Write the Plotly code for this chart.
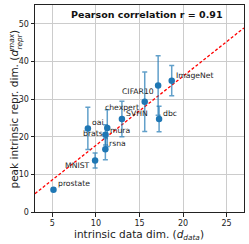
import plotly.graph_objects as go

datasets = ["prostate", "MNIST", "rsna", "brats", "mura", "oai", "SVHN",
            "chexpert", "CIFAR10", "dbc", "ImageNet"]
d_data = [5.12, 9.9, 11.08, 11.1, 11.3, 9.07, 12.98, 15.6, 17.14, 17.25, 18.7]
d_repr = [5.9, 13.7, 16.7, 20.5, 22.3, 22.2, 24.7, 29.3, 33.6, 24.7, 34.9]
d_repr_err = [0.0, 2.0, 2.8, 2.7, 4.9, 5.6, 4.7, 7.9, 7.9, 3.4, 4.0]
fit_slope = 1.835
fit_intercept = -0.63
x_ticks = [5, 10, 15, 20, 25]
y_ticks = [0, 10, 20, 30, 40, 50]
title_text = "<b>Pearson correlation r = 0.91</b>"
x_title = "intrinsic data dim. (<i>d<sub>data</sub></i>)"
y_title = "peak intrinsic repr. dim. (<i>d<sup>max</sup></i>)"
y_title_sub = "<i>repr</i>"

# label placement (pixel offsets, anchor)
label_style = {
    "prostate": (2.4, 6.3, "left"),
    "MNIST": (-3, -5, "right"),
    "rsna": (1.3, 6, "left"),
    "brats": (-0.7, 1.7, "right"),
    "mura": (0.6, -2, "left"),
    "oai": (2.2, 6, "left"),
    "SVHN": (2.4, 6, "left"),
    "chexpert": (-3.7, -5.6, "right"),
    "CIFAR10": (-2.3, -6, "right"),
    "dbc": (2, 6, "left"),
    "ImageNet": (2, 5.3, "left"),
}

x_range = [3, 27]
y_range = [0, 55]
FONT = "DejaVu Sans"

fig = go.Figure()
fig.add_trace(go.Scatter(
    x=x_range, y=[fit_slope * v + fit_intercept for v in x_range],
    mode="lines", line=dict(color="#ff0000", width=1.3, dash="3px,2px"),
    showlegend=False, hoverinfo="skip"))
fig.add_trace(go.Scatter(
    x=d_data, y=d_repr, mode="markers",
    marker=dict(color="#1f77b4", size=6.5),
    error_y=dict(type="data", array=d_repr_err, visible=True,
                 color="rgba(31,119,180,0.7)", thickness=1.5, width=2.5),
    showlegend=False))

for name, xv, yv in zip(datasets, d_data, d_repr):
    dx, dy, anc = label_style[name]
    fig.add_annotation(x=xv, y=yv, text=name, showarrow=False,
                       xanchor=anc, yanchor="middle", xshift=dx, yshift=dy,
                       font=dict(family=FONT, size=7.7, color="#222"))

fig.add_annotation(x=0.5, y=0.955, xref="paper", yref="paper", text=title_text,
                   showarrow=False, xanchor="center", yanchor="middle", xshift=7,
                   font=dict(family=FONT, size=9.5, color="#111"))

fig.add_annotation(x=0.5, y=0, xref="paper", yref="paper", text=x_title,
                   showarrow=False, xanchor="center", yanchor="middle", yshift=-23, xshift=-1,
                   font=dict(family=FONT, size=10.5, color="#222"))
fig.add_annotation(x=0, y=0.5, xref="paper", yref="paper", text=y_title,
                   showarrow=False, xanchor="center", yanchor="middle", xshift=-22, yshift=-1,
                   textangle=-90, font=dict(family=FONT, size=10.5, color="#222"))
fig.add_annotation(x=0, y=0.5, xref="paper", yref="paper", text=y_title_sub,
                   showarrow=False, xanchor="center", yanchor="middle", xshift=-16, yshift=67,
                   textangle=-90, font=dict(family=FONT, size=7.3, color="#222"))

axis_common = dict(showgrid=True, gridcolor="#cccccc", gridwidth=1,
                   showline=True, linecolor="#222", linewidth=1, mirror=True,
                   ticks="outside", ticklen=3.5, tickcolor="#222", tickwidth=1,
                   zeroline=False, automargin=False,
                   tickfont=dict(family=FONT, size=8, color="#222"))

fig.update_xaxes(range=x_range, tickvals=x_ticks, **axis_common)
fig.update_yaxes(range=y_range, tickvals=y_ticks, **axis_common)

fig.update_layout(width=249, height=244, margin=dict(l=35, r=5, t=5, b=32),
                  plot_bgcolor="white", paper_bgcolor="white",
                  font=dict(family=FONT))
fig.write_html("out.html", config={"displayModeBar": False, "staticPlot": True},
               post_script="document.body.style.margin='0';document.body.style.overflow='hidden';")
